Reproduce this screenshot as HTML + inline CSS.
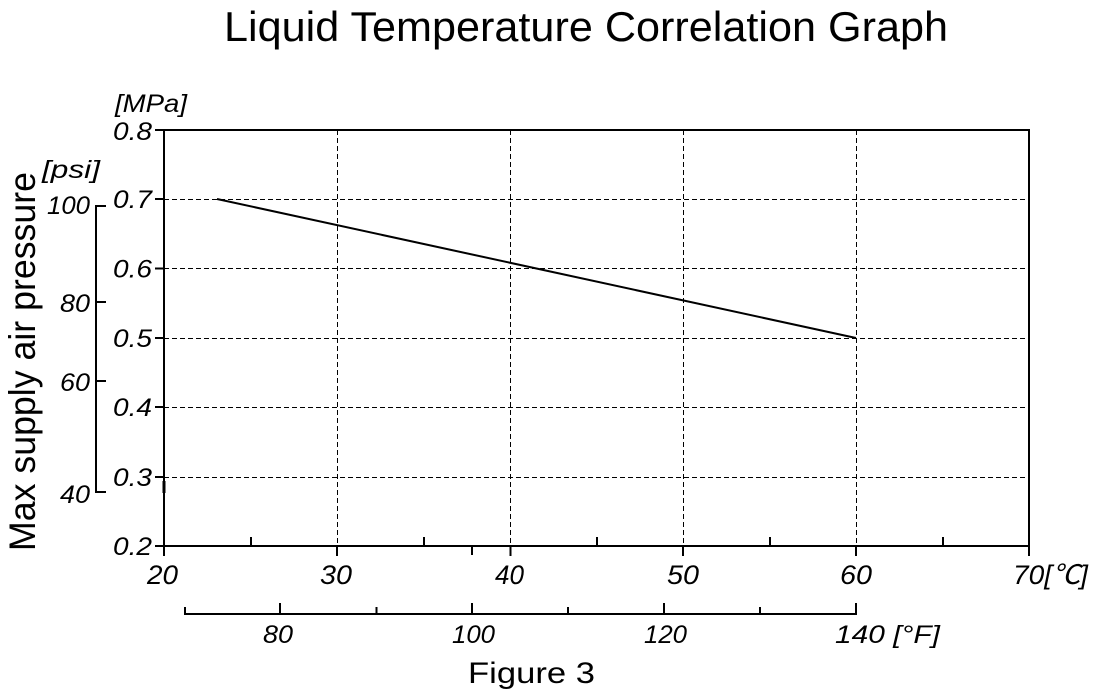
<!DOCTYPE html>
<html><head><meta charset="utf-8">
<style>
html,body{margin:0;padding:0;background:#fff;}
svg{display:block;}
text{font-family:"Liberation Sans","Noto Sans CJK JP",sans-serif;fill:#000;}
.it{font-style:italic;font-size:25px;}
.c{font-style:italic;font-size:27px;}
</style></head>
<body>
<svg width="1099" height="699" viewBox="0 0 1099 699" xmlns="http://www.w3.org/2000/svg">
<rect width="1099" height="699" fill="#fff"/>
<!-- Title -->
<text x="224" y="41" font-size="42" textLength="724" lengthAdjust="spacingAndGlyphs">Liquid Temperature Correlation Graph</text>

<!-- Grid -->
<g stroke="#000" stroke-width="1" stroke-dasharray="5,3" fill="none">
<line x1="164" y1="199.5" x2="1028" y2="199.5"/>
<line x1="164" y1="268.5" x2="1028" y2="268.5"/>
<line x1="164" y1="338.5" x2="1028" y2="338.5"/>
<line x1="164" y1="407.5" x2="1028" y2="407.5"/>
<line x1="164" y1="477.5" x2="1028" y2="477.5"/>
<line x1="337.5" y1="130" x2="337.5" y2="546"/>
<line x1="510.5" y1="130" x2="510.5" y2="546"/>
<line x1="683.5" y1="130" x2="683.5" y2="546"/>
<line x1="856.5" y1="130" x2="856.5" y2="546"/>
</g>

<!-- Frame -->
<g stroke="#000" stroke-width="2" fill="none">
<rect x="164" y="130" width="865" height="416"/>
<!-- y ticks -->
<line x1="155" y1="130" x2="164" y2="130"/>
<line x1="155" y1="199" x2="164" y2="199"/>
<line x1="155" y1="268.5" x2="164" y2="268.5"/>
<line x1="155" y1="338" x2="164" y2="338"/>
<line x1="155" y1="407" x2="164" y2="407"/>
<line x1="155" y1="477" x2="164" y2="477"/>
<line x1="155" y1="546" x2="164" y2="546"/>
<line x1="164" y1="481" x2="164" y2="493" stroke-width="3"/>
<!-- x major ticks -->
<line x1="164" y1="546" x2="164" y2="556"/>
<line x1="337" y1="546" x2="337" y2="556"/>
<line x1="510.5" y1="546" x2="510.5" y2="556"/>
<line x1="683" y1="546" x2="683" y2="556"/>
<line x1="856" y1="546" x2="856" y2="556"/>
<line x1="1029" y1="546" x2="1029" y2="556"/>
<line x1="472" y1="546" x2="472" y2="555"/>
<!-- x minor ticks -->
<line x1="251" y1="537" x2="251" y2="546"/>
<line x1="424" y1="537" x2="424" y2="546"/>
<line x1="597" y1="537" x2="597" y2="546"/>
<line x1="770" y1="537" x2="770" y2="546"/>
<line x1="943" y1="537" x2="943" y2="546"/>
<!-- psi axis -->
<line x1="96" y1="205" x2="96" y2="493"/>
<line x1="96" y1="206" x2="106" y2="206"/>
<line x1="96" y1="302" x2="106" y2="302"/>
<line x1="96" y1="381" x2="106" y2="381"/>
<line x1="96" y1="492" x2="106" y2="492"/>
<!-- F axis -->
<line x1="184" y1="614" x2="857" y2="614"/>
<line x1="185" y1="607" x2="185" y2="614"/>
<line x1="280" y1="603" x2="280" y2="614"/>
<line x1="376.5" y1="607" x2="376.5" y2="614"/>
<line x1="472" y1="603" x2="472" y2="614"/>
<line x1="568" y1="607" x2="568" y2="614"/>
<line x1="664" y1="603" x2="664" y2="614"/>
<line x1="760" y1="607" x2="760" y2="614"/>
<line x1="856" y1="603" x2="856" y2="614"/>
</g>

<!-- Data line -->
<line x1="217" y1="199" x2="856" y2="338" stroke="#000" stroke-width="2"/>

<!-- MPa labels -->
<text class="it" x="115" y="112" textLength="72" lengthAdjust="spacingAndGlyphs">[MPa]</text>
<text class="it" x="113" y="140" textLength="39" lengthAdjust="spacingAndGlyphs">0.8</text>
<text class="it" x="113" y="208" textLength="39" lengthAdjust="spacingAndGlyphs">0.7</text>
<text class="it" x="113" y="277.5" textLength="39" lengthAdjust="spacingAndGlyphs">0.6</text>
<text class="it" x="113" y="347" textLength="39" lengthAdjust="spacingAndGlyphs">0.5</text>
<text class="it" x="113" y="416" textLength="39" lengthAdjust="spacingAndGlyphs">0.4</text>
<text class="it" x="113" y="486" textLength="39" lengthAdjust="spacingAndGlyphs">0.3</text>
<text class="it" x="113" y="555" textLength="39" lengthAdjust="spacingAndGlyphs">0.2</text>

<!-- psi labels -->
<text class="it" x="42" y="178" textLength="58" lengthAdjust="spacingAndGlyphs">[psi]</text>
<text class="it" x="47" y="214" textLength="43" lengthAdjust="spacingAndGlyphs">100</text>
<text class="it" x="60" y="312" textLength="30" lengthAdjust="spacingAndGlyphs">80</text>
<text class="it" x="60" y="391" textLength="30" lengthAdjust="spacingAndGlyphs">60</text>
<text class="it" x="60" y="503" textLength="30" lengthAdjust="spacingAndGlyphs">40</text>

<!-- Y title -->
<text transform="translate(35,551) rotate(-90)" x="0" y="0" font-size="37" textLength="379" lengthAdjust="spacingAndGlyphs">Max supply air pressure</text>

<!-- C labels -->
<text class="c" x="147" y="584" textLength="31" lengthAdjust="spacingAndGlyphs">20</text>
<text class="c" x="320" y="584" textLength="32" lengthAdjust="spacingAndGlyphs">30</text>
<text class="c" x="495" y="584" textLength="29" lengthAdjust="spacingAndGlyphs">40</text>
<text class="c" x="667" y="584" textLength="32" lengthAdjust="spacingAndGlyphs">50</text>
<text class="c" x="840" y="584" textLength="32" lengthAdjust="spacingAndGlyphs">60</text>
<text class="c" x="1013" y="584" textLength="75" lengthAdjust="spacingAndGlyphs">70[℃]</text>

<!-- F labels -->
<text class="it" x="263" y="643" textLength="30" lengthAdjust="spacingAndGlyphs">80</text>
<text class="it" x="452" y="643" textLength="43" lengthAdjust="spacingAndGlyphs">100</text>
<text class="it" x="644" y="643" textLength="43" lengthAdjust="spacingAndGlyphs">120</text>
<text class="it" x="835" y="643" textLength="105" lengthAdjust="spacingAndGlyphs">140 [°F]</text>

<!-- Figure caption -->
<text x="468" y="683" font-size="30" textLength="127" lengthAdjust="spacingAndGlyphs">Figure 3</text>
</svg>
</body></html>
